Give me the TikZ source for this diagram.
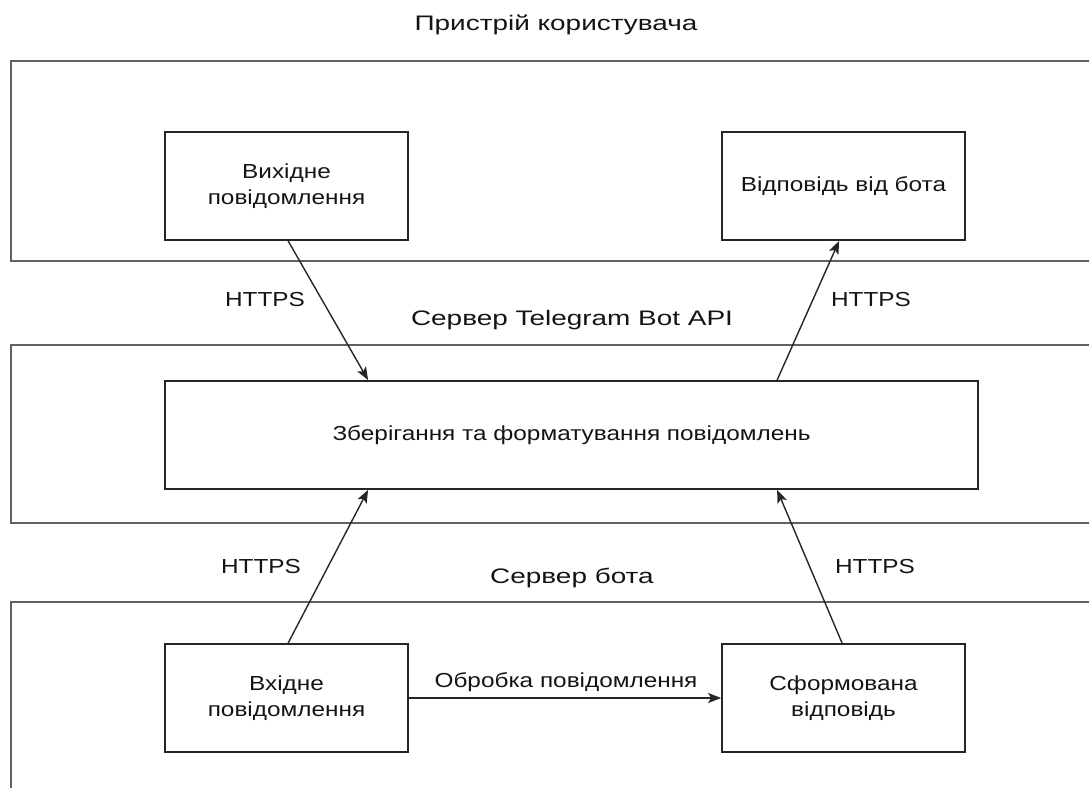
\documentclass[tikz,border=0pt]{standalone}
\usepackage{fontspec}
\setmainfont[FakeStretch=1.2]{Liberation Sans}
\newfontfamily\titlefont[FakeStretch=1.33]{Liberation Sans}
\usetikzlibrary{arrows.meta}
\begin{document}
\begin{tikzpicture}[x=1pt,y=-1pt,
  txt/.style={font=\fontsize{20.3}{26}\selectfont, text=black!92, align=center, inner sep=0pt},
  ttl/.style={font=\titlefont\fontsize{21}{26}\selectfont, text=black!92, align=center, inner sep=0pt},
  innerbox/.style={draw=black!85, line width=1.8pt, inner sep=0pt},
  outerbox/.style={draw=black!62, line width=2.2pt},
  conn/.style={draw=black!85, line width=1.4pt, -{Stealth[length=13pt,width=10pt,inset=3pt]}}
]
\useasboundingbox (0,0) rectangle (1089,787);
\clip (0,0) rectangle (1089,787);
% outer regions
\draw[outerbox] (1100,61) -- (11,61) -- (11,261) -- (1100,261);
\draw[outerbox] (1100,345) -- (11,345) -- (11,523) -- (1100,523);
\draw[outerbox] (1100,602) -- (11,602) -- (11,800);
% titles
\node[ttl] (t1) at (556,25) {Пристрій користувача};
\node[ttl] (t2) at (572,320) {Сервер Telegram Bot API};
\node[ttl] (t3) at (572,578) {Сервер бота};
% inner boxes
\node[innerbox, minimum width=243pt, minimum height=108pt] (out) at (286.5,186) {};
\node[txt] at (out.center) {Вихідне\\повідомлення};
\node[innerbox, minimum width=243pt, minimum height=108pt] (rep) at (843.5,186) {};
\node[txt] at (rep.center) {Відповідь від бота};
\node[innerbox, minimum width=813pt, minimum height=108pt] (mid) at (571.5,435) {};
\node[txt] at (mid.center) {Зберігання та форматування повідомлень};
\node[innerbox, minimum width=243pt, minimum height=108pt] (inb) at (286.5,698) {};
\node[txt] at (inb.center) {Вхідне\\повідомлення};
\node[innerbox, minimum width=243pt, minimum height=108pt] (frm) at (843.5,698) {};
\node[txt] at (frm.center) {Сформована\\відповідь};
% connectors
\draw[conn] ([xshift=124pt]out.south west) -- ([xshift=204pt]mid.north west);
\draw[conn] ([xshift=613pt]mid.north west) -- ([xshift=118pt]rep.south west);
\draw[conn] ([xshift=124pt]inb.north west) -- ([xshift=204pt]mid.south west);
\draw[conn] ([xshift=121pt]frm.north west) -- ([xshift=613pt]mid.south west);
\draw[conn] (inb.east) -- (frm.west);
% labels
\node[txt] (h1) at (265,300) {HTTPS};
\node[txt] (h2) at (871,300) {HTTPS};
\node[txt] (h3) at (261,567) {HTTPS};
\node[txt] (h4) at (875,567) {HTTPS};
\node[txt] (lp) at (566,682) {Обробка повідомлення};
\end{tikzpicture}
\end{document}
